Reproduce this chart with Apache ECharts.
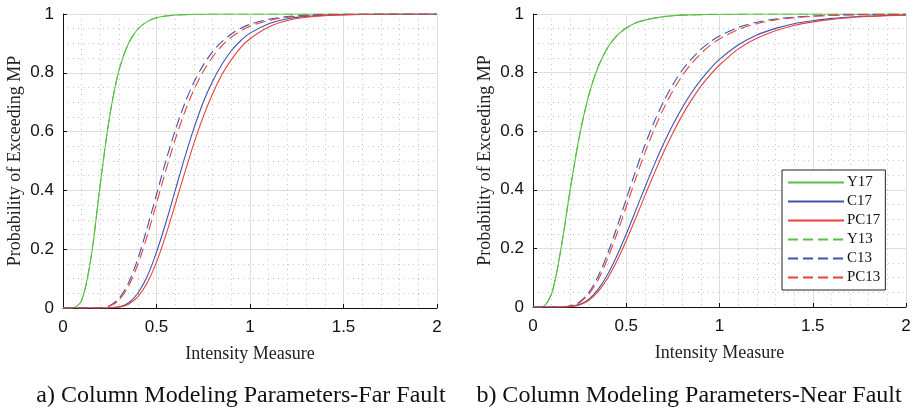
<!DOCTYPE html>
<html>
<head>
<meta charset="utf-8">
<script src="https://cdn.jsdelivr.net/npm/echarts@6/dist/echarts.min.js"></script>
<style>
  html, body { margin: 0; padding: 0; background: #fff; }
  #chart { width: 917px; height: 410px; }
</style>
</head>
<body>
<div id="chart"></div>
<script>
// intensity measure sample points (shared by every curve)
const IM = [0, 0.05, 0.1, 0.15, 0.2, 0.25, 0.3, 0.35, 0.4, 0.45, 0.5, 0.55, 0.6, 0.65, 0.7, 0.75, 0.8, 0.85, 0.9, 0.95, 1.0,
  1.1, 1.2, 1.3, 1.4, 1.5, 1.6, 1.7, 1.8, 1.9, 2.0];

// a) far fault
const farY17 = [0, 0, 0.026, 0.172, 0.425, 0.654, 0.81, 0.9, 0.949, 0.974, 0.987, 0.993, 0.9965, 0.998, 0.999, 0.9995, 1, 1, 1, 1, 1,
  1, 1, 1, 1, 1, 1, 1, 1, 1, 1];
const farC17 = [0, 0, 0, 0, 0, 0.001, 0.004, 0.017, 0.05, 0.107, 0.19, 0.29, 0.4, 0.51, 0.611, 0.7, 0.771, 0.829, 0.875, 0.909, 0.935,
  0.967, 0.984, 0.992, 0.996, 0.998, 0.999, 1, 1, 1, 1];
const farPC17 = [0, 0, 0, 0, 0, 0.001, 0.003, 0.013, 0.038, 0.085, 0.156, 0.248, 0.352, 0.458, 0.56, 0.651, 0.729, 0.794, 0.845, 0.886, 0.916,
  0.956, 0.978, 0.989, 0.9945, 0.997, 0.9986, 0.999, 1, 1, 1];
const farY13 = [0, 0, 0.026, 0.172, 0.425, 0.654, 0.81, 0.9, 0.949, 0.974, 0.987, 0.993, 0.9965, 0.998, 0.999, 0.9995, 1, 1, 1, 1, 1,
  1, 1, 1, 1, 1, 1, 1, 1, 1, 1];
const farC13 = [0, 0, 0, 0, 0.001, 0.008, 0.033, 0.085, 0.167, 0.272, 0.386, 0.5, 0.604, 0.694, 0.768, 0.826, 0.872, 0.906, 0.932, 0.951, 0.965,
  0.982, 0.991, 0.9955, 0.998, 0.999, 0.9995, 1, 1, 1, 1];
const farPC13 = [0, 0, 0, 0, 0.001, 0.007, 0.027, 0.074, 0.148, 0.245, 0.356, 0.468, 0.573, 0.665, 0.742, 0.805, 0.854, 0.892, 0.921, 0.942, 0.958,
  0.978, 0.989, 0.994, 0.997, 0.9985, 0.9992, 1, 1, 1, 1];

// b) near fault
const nearY17 = [0, 0.001, 0.046, 0.199, 0.403, 0.587, 0.725, 0.821, 0.885, 0.926, 0.952, 0.969, 0.979, 0.986, 0.991, 0.994, 0.996, 0.997, 0.998, 0.9987, 0.999,
  0.9995, 1, 1, 1, 1, 1, 1, 1, 1, 1];
const nearC17 = [0, 0, 0, 0, 0.002, 0.009, 0.027, 0.061, 0.111, 0.175, 0.249, 0.328, 0.408, 0.485, 0.557, 0.622, 0.68, 0.731, 0.775, 0.813, 0.845,
  0.894, 0.928, 0.951, 0.967, 0.977, 0.985, 0.9895, 0.993, 0.995, 0.9966];
const nearPC17 = [0, 0, 0, 0, 0.0014, 0.007, 0.023, 0.053, 0.098, 0.157, 0.227, 0.302, 0.38, 0.456, 0.528, 0.594, 0.654, 0.707, 0.753, 0.792, 0.826,
  0.88, 0.917, 0.943, 0.961, 0.973, 0.9816, 0.9874, 0.9913, 0.994, 0.9957];
const nearY13 = [0, 0.001, 0.046, 0.199, 0.403, 0.587, 0.725, 0.821, 0.885, 0.926, 0.952, 0.969, 0.979, 0.986, 0.991, 0.994, 0.996, 0.997, 0.998, 0.9987, 0.999,
  0.9995, 1, 1, 1, 1, 1, 1, 1, 1, 1];
const nearC13 = [0, 0, 0, 0, 0.004, 0.017, 0.05, 0.106, 0.182, 0.272, 0.368, 0.464, 0.552, 0.632, 0.701, 0.759, 0.808, 0.847, 0.879, 0.905, 0.925,
  0.954, 0.972, 0.983, 0.9894, 0.9934, 0.9959, 0.9974, 0.9984, 0.999, 0.9994];
const nearPC13 = [0, 0, 0, 0, 0.003, 0.015, 0.044, 0.094, 0.165, 0.25, 0.343, 0.437, 0.526, 0.606, 0.677, 0.738, 0.789, 0.831, 0.865, 0.893, 0.915,
  0.947, 0.967, 0.98, 0.987, 0.992, 0.995, 0.9968, 0.998, 0.9987, 0.9992];

const xTicks = [0, 0.5, 1, 1.5, 2];
const yTicks = [0, 0.2, 0.4, 0.6, 0.8, 1];

const GREEN = '#58bf45';
const BLUE = '#3f52b3';
const RED = '#e8423a';
const serif = '"Liberation Serif", "DejaVu Serif", serif';
const sans = '"Liberation Sans", Arial, sans-serif';

const myChart = echarts.init(document.getElementById('chart'));

const pairs = (ys) => IM.map((x, i) => [x, ys[i]]);

const makeX = (gridIndex) => ({
  type: 'value',
  gridIndex,
  min: xTicks[0],
  max: xTicks[xTicks.length - 1],
  interval: 0.5,
  name: 'Intensity Measure',
  nameLocation: 'middle',
  nameGap: 37,
  nameTextStyle: { fontFamily: serif, fontSize: 18, color: '#222' },
  axisLine: { lineStyle: { color: '#111', width: 1 } },
  axisTick: { inside: true, length: 4, lineStyle: { color: '#111' } },
  axisLabel: { fontFamily: sans, fontSize: 17, color: '#111', margin: 11 },
  splitLine: { show: true, lineStyle: { color: '#dedede', width: 1 } },
  minorTick: { show: false, splitNumber: 5 },
  minorSplitLine: { show: true, lineStyle: { color: '#c4c4c4', width: 1, type: [1, 4] } },
});

const makeY = (gridIndex) => ({
  type: 'value',
  gridIndex,
  min: yTicks[0],
  max: yTicks[yTicks.length - 1],
  interval: 0.2,
  name: 'Probability of Exceeding MP',
  nameLocation: 'middle',
  nameGap: 39,
  nameTextStyle: { fontFamily: serif, fontSize: 18, color: '#222' },
  axisLine: { show: true, lineStyle: { color: '#111', width: 1 } },
  axisTick: { show: true, inside: true, length: 4, lineStyle: { color: '#111' } },
  axisLabel: { fontFamily: sans, fontSize: 17, color: '#111', margin: 9 },
  splitLine: { show: true, lineStyle: { color: '#dedede', width: 1 } },
  minorTick: { show: false, splitNumber: 4 },
  minorSplitLine: { show: true, lineStyle: { color: '#c4c4c4', width: 1, type: [1, 4] } },
});

const line = (name, ys, color, dashed, idx) => ({
  name,
  type: 'line',
  xAxisIndex: idx,
  yAxisIndex: idx,
  data: pairs(ys),
  smooth: 0.3,
  symbol: 'none',
  lineStyle: { color, width: 1.1, type: dashed ? [10, 5] : 'solid' },
  itemStyle: { color },
  emphasis: { disabled: true },
});

const option = {
  animation: false,
  backgroundColor: '#fff',
  title: [
    {
      text: 'a) Column Modeling Parameters-Far Fault',
      left: 236, top: 379, textAlign: 'center',
      textStyle: { fontFamily: serif, fontSize: 24, fontWeight: 'normal', color: '#111' },
    },
    {
      text: 'b) Column Modeling Parameters-Near Fault',
      left: 684, top: 379, textAlign: 'center',
      textStyle: { fontFamily: serif, fontSize: 24, fontWeight: 'normal', color: '#111' },
    },
  ],
  legend: {
    orient: 'vertical',
    left: 782,
    top: 170,
    padding: [5, 5, 5, 5],
    itemWidth: 56,
    itemHeight: 14,
    itemGap: 4,
    backgroundColor: '#fff',
    borderColor: '#222',
    borderWidth: 1,
    itemStyle: { opacity: 0 },
    textStyle: { fontFamily: serif, fontSize: 15, color: '#111', padding: [0, 0, 0, -2], lineHeight: 14 },
    data: ['Y17', 'C17', 'PC17', 'Y13', 'C13', 'PC13'],
  },
  grid: [
    { left: 63, top: 14, width: 374, height: 294 },
    { left: 533, top: 14, width: 373, height: 293 },
  ],
  xAxis: [makeX(0), makeX(1)],
  yAxis: [makeY(0), makeY(1)],
  series: [
    line('Y17', farY17, GREEN, false, 0),
    line('C17', farC17, BLUE, false, 0),
    line('PC17', farPC17, RED, false, 0),
    line('Y13', farY13, GREEN, true, 0),
    line('C13', farC13, BLUE, true, 0),
    line('PC13', farPC13, RED, true, 0),
    line('Y17', nearY17, GREEN, false, 1),
    line('C17', nearC17, BLUE, false, 1),
    line('PC17', nearPC17, RED, false, 1),
    line('Y13', nearY13, GREEN, true, 1),
    line('C13', nearC13, BLUE, true, 1),
    line('PC13', nearPC13, RED, true, 1),
  ],
};

myChart.setOption(option);
</script>
</body>
</html>
